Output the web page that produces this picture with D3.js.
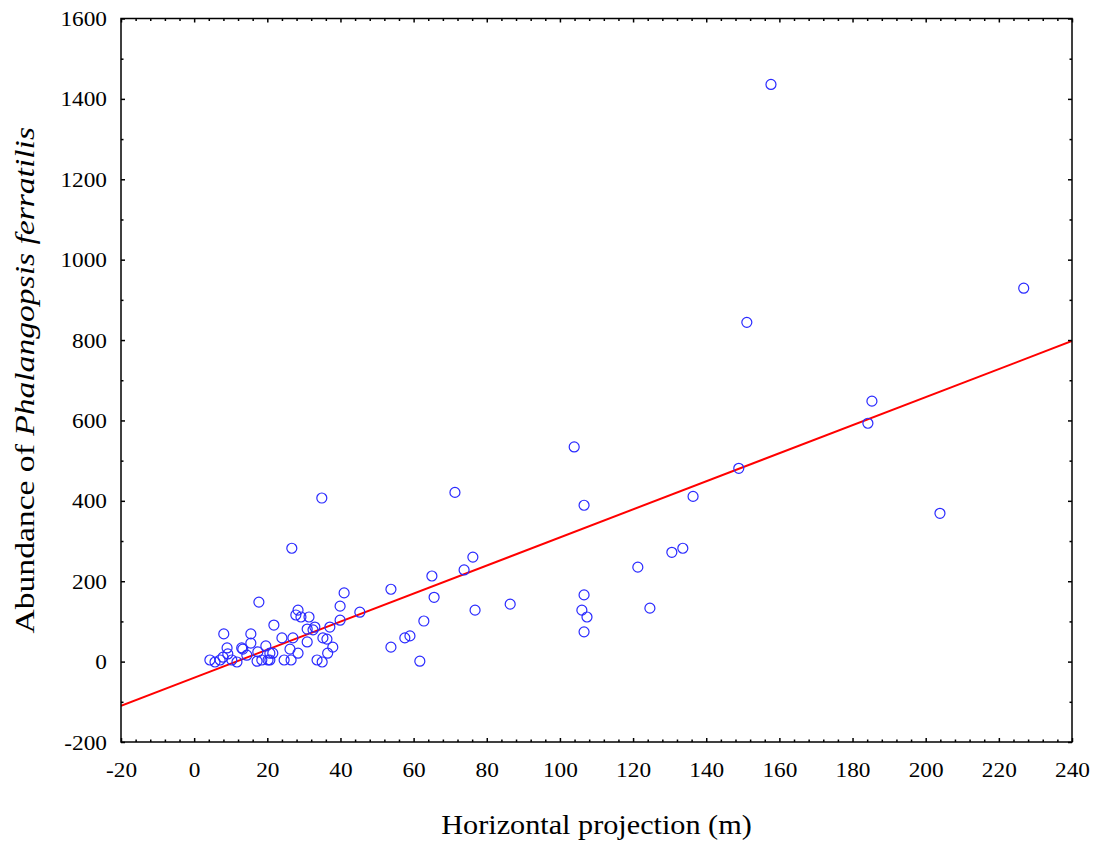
<!DOCTYPE html>
<html><head><meta charset="utf-8">
<script src="https://cdn.jsdelivr.net/npm/d3@7"></script>
<style>body{margin:0;background:#fff;}svg{display:block;}</style>
</head><body>
<script>
const xValues = [157.7,226.8,151.1,185.3,184.2,148.9,136.4,203.9,103.9,106.6,71.3,34.9,26.7,133.6,130.6,121.3,106.6,106.0,107.4,106.6,124.6,86.4,76.8,76.2,73.8,65.0,65.6,53.8,53.8,62.8,57.6,59.0,61.7,45.3,41.0,39.9,39.9,37.9,37.1,36.3,36.5,35.0,33.6,35.2,33.0,31.4,30.9,29.2,28.4,27.8,30.9,27.0,24.0,26.2,28.4,24.6,26.5,21.8,21.5,20.7,19.6,18.5,17.4,17.7,17.2,15.5,15.5,14.4,13.3,11.7,10.3,9.2,9.0,8.1,7.9,7.1,5.7,4.3,20.7,20.2,13.0,32.5];
const yValues = [1436,929,844,648,593,481,411,369,534,389,421,407,282,282,272,235,166,128,111,74,133,143,128,260,228,213,160,180,36,101,59,64,1,123,171,138,103,36,86,56,21,-1,4,59,86,111,81,111,128,116,49,59,59,31,21,4,4,91,21,4,39,4,24,148,1,69,46,16,31,-1,4,19,34,69,11,4,-1,4,21,4,34,79];
const xTicks = [-20,0,20,40,60,80,100,120,140,160,180,200,220,240];
const yTicks = [-200,0,200,400,600,800,1000,1200,1400,1600];
const fitIntercept = -40;
const fitSlope = 3.49;

const W = 1097, H = 845;
const L = 121, R = 1072, T = 18.5, B = 742;
const svg = d3.select("body").append("svg").attr("width", W).attr("height", H);
const x = d3.scaleLinear().domain([-20, 240]).range([L, R]);
const y = d3.scaleLinear().domain([-200, 1600]).range([B, T]);
const font = "'Liberation Serif','Times New Roman',serif";
const fmt = d => String(d);
const SX = 1.06;

svg.append("clipPath").attr("id","clip").append("rect")
  .attr("x", L).attr("y", T).attr("width", R-L).attr("height", B-T);

// regression line
svg.append("line").attr("clip-path","url(#clip)")
  .attr("x1", x(-20)).attr("y1", y(fitIntercept + fitSlope*-20))
  .attr("x2", x(240)).attr("y2", y(fitIntercept + fitSlope*240))
  .attr("stroke", "#ff0000").attr("stroke-width", 2);

// points
svg.append("g").selectAll("circle").data(xValues.map((v,i)=>[v,yValues[i]]))
  .join("circle")
  .attr("cx", d=>x(d[0])).attr("cy", d=>y(d[1])).attr("r", 5)
  .attr("fill", "none").attr("stroke", "#2a2aff").attr("stroke-width", 1.2);

const xMinor = d3.range(-20, 241, 4).filter(v => v % 20 !== 0);
const yMinor = d3.range(-100, 1600, 200);
function styleAxis(g){ g.select(".domain").remove(); g.selectAll("line").attr("stroke","#000").attr("stroke-width",1.5); }

svg.append("g").attr("transform",`translate(0,${B})`)
  .call(d3.axisBottom(x).tickValues(xTicks).tickSizeInner(-4).tickSizeOuter(0).tickPadding(19).tickFormat(fmt))
  .call(styleAxis)
  .call(g=>g.selectAll("text").attr("font-family",font).attr("font-size",22).attr("fill","#000")
    .attr("transform",`scale(${SX},1)`));
svg.append("g").attr("transform",`translate(0,${B})`)
  .call(d3.axisBottom(x).tickValues(xMinor).tickSizeInner(-2.5).tickSizeOuter(0).tickFormat(""))
  .call(styleAxis);
svg.append("g").attr("transform",`translate(0,${T})`)
  .call(d3.axisTop(x).tickValues(xTicks).tickSizeInner(-4).tickSizeOuter(0).tickFormat(""))
  .call(styleAxis);
svg.append("g").attr("transform",`translate(0,${T})`)
  .call(d3.axisTop(x).tickValues(xMinor).tickSizeInner(-2.5).tickSizeOuter(0).tickFormat(""))
  .call(styleAxis);

svg.append("g").attr("transform",`translate(${L},0)`)
  .call(d3.axisLeft(y).tickValues(yTicks).tickSizeInner(-4).tickSizeOuter(0).tickPadding(14).tickFormat(fmt))
  .call(styleAxis)
  .call(g=>g.selectAll("text").attr("font-family",font).attr("font-size",22).attr("fill","#000")
    .attr("x", -14/SX).attr("transform",`scale(${SX},1)`));
svg.append("g").attr("transform",`translate(${L},0)`)
  .call(d3.axisLeft(y).tickValues(yMinor).tickSizeInner(-2.5).tickSizeOuter(0).tickFormat(""))
  .call(styleAxis);
svg.append("g").attr("transform",`translate(${R},0)`)
  .call(d3.axisRight(y).tickValues(yTicks).tickSizeInner(-4).tickSizeOuter(0).tickFormat(""))
  .call(styleAxis);
svg.append("g").attr("transform",`translate(${R},0)`)
  .call(d3.axisRight(y).tickValues(yMinor).tickSizeInner(-2.5).tickSizeOuter(0).tickFormat(""))
  .call(styleAxis);

// frame
svg.append("rect").attr("x", L).attr("y", T).attr("width", R-L).attr("height", B-T)
  .attr("fill","none").attr("stroke","#000").attr("stroke-width",1.5);

// titles
svg.append("text").attr("transform",`translate(${(L+R)/2},834) scale(1.08,1)`).attr("text-anchor","middle")
  .attr("font-family",font).attr("font-size",28).attr("fill","#000")
  .text("Horizontal projection (m)");
const yt = svg.append("text").attr("transform",`translate(34,${(T+B)/2}) rotate(-90) scale(1.2,1)`)
  .attr("text-anchor","middle").attr("font-family",font).attr("font-size",28).attr("fill","#000");
yt.append("tspan").text("Abundance of ");
yt.append("tspan").attr("font-style","italic").text("Phalangopsis ferratilis");
</script>
</body></html>
